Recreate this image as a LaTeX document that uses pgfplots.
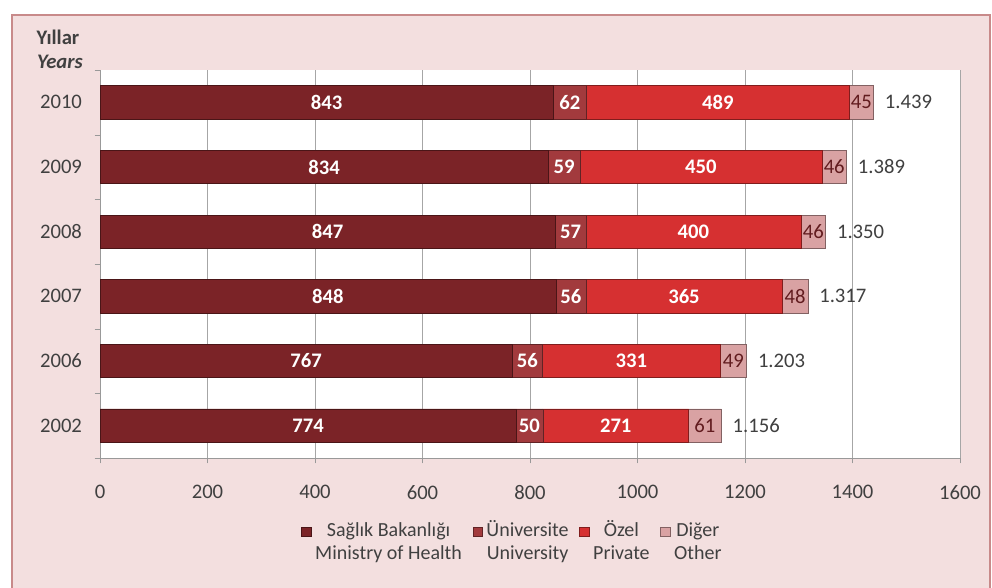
\documentclass[border=0pt]{standalone}
\usepackage{pgfplots}
\usepackage{pgfplotstable}
\pgfplotsset{compat=1.18}
\usepackage{fontspec}
\setmainfont{Carlito}
\definecolor{cmoh}{HTML}{7B2327}
\definecolor{cuni}{HTML}{A23A3D}
\definecolor{cpri}{HTML}{D63031}
\definecolor{coth}{HTML}{D9A2A3}
\definecolor{bgpink}{HTML}{F3DFDF}
\definecolor{framec}{HTML}{C88A8A}
\definecolor{txt}{HTML}{404040}
\pgfplotstableread{
pos moh uni pri oth tot total
0 774 50 271 61 1156 1.156
1 767 56 331 49 1203 1.203
2 848 56 365 48 1317 1.317
3 847 57 400 46 1350 1.350
4 834 59 450 46 1389 1.389
5 843 62 489 45 1439 1.439
}\data
\pgfplotsset{
  /pgf/number format/assume math mode=true,
  /pgf/number format/1000 sep={},
  seg/.style 2 args={
    fill=#1, draw=#1!60!black, line width=0.4pt,
    nodes near coords,
    point meta=\thisrow{#2},
    every node near coord/.append style={anchor=center,
      font=\fontsize{15.5}{18}\selectfont\bfseries, text=white}
  },
  geom/.style={at={(75pt,97.5pt)}, anchor=south west,
    scale only axis, width=645pt, height=291pt,
    xmin=0, xmax=1600, ymin=-0.5, ymax=5.5}
}
\begin{document}
\begin{tikzpicture}
\useasboundingbox (0,0) rectangle (744pt,441pt);
\fill[white] (0,0) rectangle (744pt,441pt);
\filldraw[fill=bgpink, draw=framec, line width=0.8pt] (9pt,-5pt) rectangle (742.5pt,429.75pt);
\node[font=\fontsize{15.5}{18}\selectfont\bfseries, text=txt] at (43.5pt,413pt) {Yıllar};
\node[font=\fontsize{15.5}{18}\selectfont\bfseries\itshape, text=txt] at (45pt,394.5pt) {Years};
\begin{axis}[
  geom,
  xbar stacked, bar width=25pt,
  axis background/.style={fill=white},
  axis x line*=bottom, axis y line*=left,
  axis line style={draw=gray!80},
  xtick={0,200,...,1600},
  xmajorgrids, major grid style={draw=gray!70, line width=0.5pt},
  ytick={0,...,5},
  yticklabels={2002,2006,2007,2008,2009,2010},
  minor ytick={-0.5,0.5,1.5,2.5,3.5,4.5,5.5},
  major y tick style={draw=none},
  minor y tick style={draw=gray!80},
  x tick style={draw=gray!80},
  tick align=outside, major tick length=4pt, minor tick length=4pt,
  ticklabel style={font=\fontsize{15.5}{18}\selectfont, text=txt},
  yticklabel style={xshift=-6pt},
  xticklabel style={yshift=-13pt},
  legend style={at={(0.48,-0.145)}, anchor=north, draw=none, fill=none,
    legend columns=4, font=\fontsize{15}{17.5}\selectfont, text=txt,
    cells={anchor=base west},
    /tikz/every even column/.append style={column sep=6pt},
    /tikz/every odd column/.append style={column sep=1pt}},
  legend image code/.code={\draw[#1] (0pt,0pt) rectangle (7pt,7pt);},
]
\addplot[seg={cmoh}{moh}] table[x=moh, y=pos] {\data};
\addplot[seg={cuni}{uni}] table[x=uni, y=pos] {\data};
\addplot[seg={cpri}{pri}] table[x=pri, y=pos] {\data};
\addplot[seg={coth}{oth}, every node near coord/.append style={text=cmoh!80!black, font=\fontsize{15.5}{18}\selectfont}] table[x=oth, y=pos] {\data};
\addlegendentry{\begin{tabular}[t]{@{}c@{}}Sağlık Bakanlığı\\Ministry of Health\end{tabular}}
\addlegendentry{\begin{tabular}[t]{@{}c@{}}Üniversite\\University\end{tabular}}
\addlegendentry{\begin{tabular}[t]{@{}c@{}}Özel\\Private\end{tabular}}
\addlegendentry{\begin{tabular}[t]{@{}c@{}}Diğer\\Other\end{tabular}}
\end{axis}
\begin{axis}[geom, hide axis]
\addplot[only marks, mark=none, nodes near coords, point meta=explicit symbolic,
  every node near coord/.style={anchor=west, xshift=5pt, font=\fontsize{15.5}{18}\selectfont, text=txt}]
  table[x=tot, y=pos, meta=total] {\data};
\end{axis}
\end{tikzpicture}
\end{document}
